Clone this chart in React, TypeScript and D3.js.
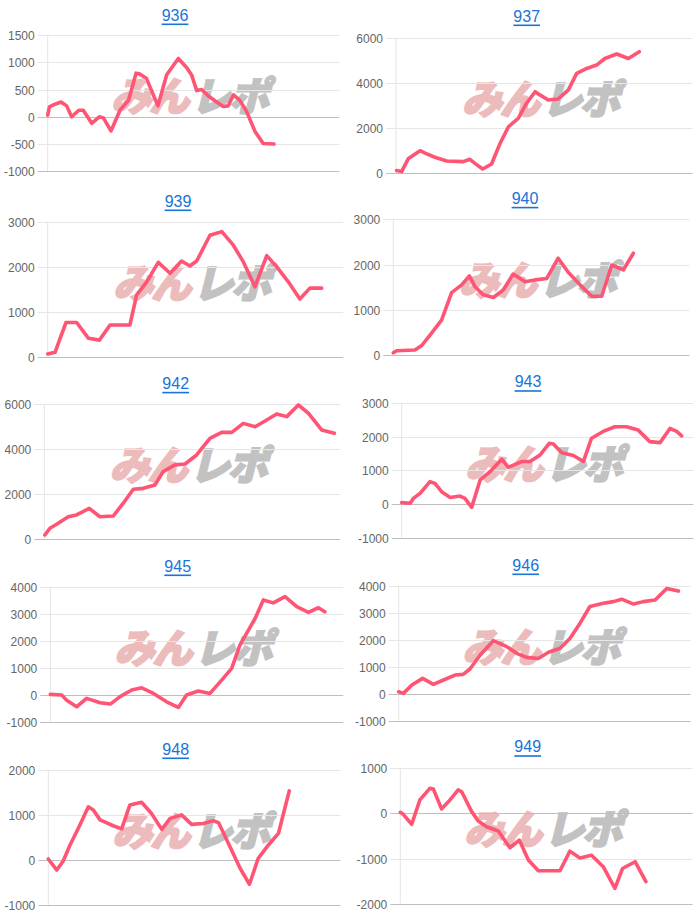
import React from "react";
import * as d3 from "d3";

type Pt = [number, number];

const TITLES = ["936", "937", "939", "940", "942", "943", "945", "946", "948", "949"];
const Y_MIN = [-1000, 0, 0, 0, 0, -1000, -1000, -1000, -1000, -2000];
const Y_MAX = [1500, 6000, 3000, 3000, 6000, 3000, 4000, 4000, 2000, 1000];
const Y_STEP = [500, 2000, 1000, 1000, 2000, 1000, 1000, 1000, 1000, 1000];

// [position along the x axis (0-100), value]
const s936: Pt[] = [[0,30],[0.6,180],[2.5,230],[4.6,270],[6.5,200],[8.2,0],[10.7,120],[12.2,120],[15.1,-120],[17.7,0],[19.1,-20],[21.7,-260],[24.8,120],[27.7,300],[30.3,800],[31.4,790],[33.9,700],[37.8,200],[40.8,770],[44.8,1070],[47.7,900],[49.4,760],[51.1,480],[52.8,500],[55.1,380],[57.7,280],[60.2,190],[61.9,200],[63.7,400],[65.9,300],[68.2,100],[71.1,-270],[73.9,-490],[77.6,-500]];
const s937: Pt[] = [[0.2,120],[1.9,75],[4.2,660],[8.1,1000],[9.8,890],[13.1,710],[17.1,545],[22.7,515],[24.9,620],[26.6,440],[29.2,190],[32.2,410],[35.1,1330],[37.9,2060],[41.2,2430],[44.0,3100],[46.9,3610],[48.5,3470],[51.3,3240],[54.7,3290],[58.1,3690],[60.9,4420],[64.3,4640],[67.6,4790],[70.4,5080],[74.4,5280],[78.3,5080],[82.0,5380]];
const s939: Pt[] = [[0,75],[2.5,110],[4.2,420],[6.2,770],[9.8,770],[13.8,420],[17.5,380],[21.1,715],[27.8,715],[30.1,1380],[33.5,1670],[37.4,2100],[41.4,1860],[45.3,2130],[48.1,2020],[50.4,2130],[54.9,2700],[58.9,2780],[62.8,2480],[66.2,2110],[70.1,1560],[74.1,2250],[77.5,2000],[81.4,1670],[85.3,1290],[88.7,1530],[92.7,1530]];
const s940: Pt[] = [[0,50],[1.1,95],[7.3,110],[9.6,210],[12.4,440],[16.3,770],[19.7,1380],[23.1,1550],[25.7,1750],[27.6,1510],[30.4,1330],[33.8,1270],[37.2,1440],[40.5,1790],[44.5,1620],[47.8,1660],[51.8,1690],[55.7,2140],[59.1,1830],[63.1,1550],[67.0,1300],[70.4,1300],[73.8,1990],[77.7,1880],[81.1,2250]];
const s942: Pt[] = [[0.2,190],[1.9,490],[4.7,710],[8.1,1000],[10.9,1080],[15.2,1370],[18.8,1000],[23.3,1030],[26.7,1600],[30.1,2220],[33.5,2260],[37.4,2410],[40.2,3000],[44.2,3300],[47.6,3340],[51.5,3740],[56.0,4480],[60.0,4740],[63.4,4740],[67.3,5140],[71.3,4990],[75.2,5290],[78.6,5560],[82.0,5440],[85.9,5960],[89.3,5590],[93.8,4850],[98.1,4700]];
const s943: Pt[] = [[0,45],[2.9,25],[4.0,170],[6.3,320],[9.7,665],[11.4,615],[13.7,370],[16.6,200],[20.0,240],[21.7,170],[24.0,-95],[26.9,715],[30.3,960],[34.3,1330],[36.6,1090],[41.1,1260],[44.0,1260],[47.4,1450],[50.6,1800],[52.0,1780],[54.9,1520],[58.9,1440],[62.3,1260],[65.1,1950],[69.1,2150],[73.1,2290],[77.1,2290],[81.1,2190],[85.1,1850],[88.6,1820],[92.0,2240],[94.3,2150],[96.0,2020]];
const s945: Pt[] = [[0,15],[3.9,-10],[5.6,-200],[9.0,-445],[12.4,-135],[17.0,-295],[20.5,-345],[23.8,-70],[27.8,175],[31.2,260],[35.2,50],[39.7,-260],[43.7,-470],[46.5,-10],[50.5,140],[54.5,50],[58.5,545],[61.9,980],[64.7,1840],[67.0,2280],[69.9,2830],[72.7,3520],[76.1,3410],[80.1,3640],[84.1,3270],[88.1,3060],[91.5,3230],[93.7,3080]];
const s946: Pt[] = [[0,75],[1.6,15],[4.5,325],[8.2,570],[11.9,350],[15.3,510],[19.3,695],[22.1,720],[24.4,920],[27.9,1440],[32.4,1970],[37.0,1750],[40.4,1500],[43.8,1350],[47.8,1310],[51.3,1540],[55.3,1690],[58.7,2060],[62.1,2620],[65.5,3240],[70.1,3360],[73.5,3420],[76.4,3510],[80.4,3330],[83.8,3420],[87.8,3480],[91.8,3910],[95.8,3810]];
const s948: Pt[] = [[0,25],[2.9,-220],[5.1,-20],[7.4,330],[10.8,775],[13.7,1180],[15.4,1110],[17.7,890],[22.2,760],[25.1,690],[27.9,1220],[31.9,1280],[35.3,1030],[38.8,680],[41.6,920],[45.6,1000],[49.0,790],[53.0,810],[56.4,870],[58.2,830],[62.1,300],[65.6,-180],[68.8,-535],[71.8,40],[75.3,335],[78.7,590],[82.4,1530]];
const s949: Pt[] = [[0,25],[1.0,-20],[3.9,-240],[6.7,300],[10.1,555],[11.3,540],[14.1,100],[17.0,300],[19.8,520],[21.0,480],[24.4,40],[26.7,-170],[29.5,-295],[33.5,-390],[37.5,-760],[40.7,-590],[43.8,-1030],[47.2,-1270],[54.6,-1270],[58.0,-835],[61.4,-985],[65.4,-925],[69.4,-1180],[73.4,-1660],[76.0,-1220],[80.3,-1070],[84.0,-1510]];

const SERIES = [s936, s937, s939, s940, s942, s943, s945, s946, s948, s949];

// layout: plot boxes [left, top, right, bottom] and title centre
const BOXES = [
  [47.7, 35, 339.3, 171.3],
  [396, 37.7, 692.7, 173.3],
  [47.7, 221.7, 343.3, 357.3],
  [393.3, 219.3, 689.3, 355],
  [44.3, 404, 340, 539.3],
  [401.7, 402.7, 693.3, 538],
  [50.3, 587, 343.3, 721.7],
  [398.7, 586, 690.7, 720.7],
  [48.3, 769.7, 340.7, 905.3],
  [400.3, 768.3, 692.7, 903.7],
];
const TITLE_POS = [
  [175, 15], [526.7, 16], [178, 201], [525, 198.3], [175.7, 383.3],
  [528, 381.7], [177.7, 566], [525.7, 565], [175.7, 749], [527.7, 746.7],
];

const LINE_COLOR = "#ff5574";
const FONT = "'Liberation Sans', Arial, Helvetica, sans-serif";

function Panel({ i }: { i: number }) {
  const [l, t, r, b] = BOXES[i];
  const x = d3.scaleLinear().domain([0, 100]).range([l, r]);
  const y = d3.scaleLinear().domain([Y_MIN[i], Y_MAX[i]]).range([b, t]);
  const ticks = d3.range(Y_MIN[i], Y_MAX[i] + 1, Y_STEP[i]);
  const line = d3
    .line<Pt>()
    .x((d) => x(d[0]))
    .y((d) => y(d[1]));
  const cx = (l + r) / 2;
  const cy = (t + b) / 2 - 9;
  const [tx, ty] = TITLE_POS[i];
  return (
    <g>
      {/* watermark */}
      <g transform={`translate(${cx},${cy}) skewX(-14)`}>
        <text
          x={-2}
          y={0}
          textAnchor="end"
          dominantBaseline="central"
          fontFamily="'Noto Sans CJK JP', sans-serif"
          fontWeight={900}
          fontSize={40}
          fill="#ecbcbc"
          stroke="#ecbcbc"
          strokeWidth={2}
          letterSpacing={-2}
        >
          みん
        </text>
        <text
          x={2}
          y={0}
          textAnchor="start"
          dominantBaseline="central"
          fontFamily="'Noto Sans CJK JP', sans-serif"
          fontWeight={900}
          fontSize={40}
          fill="#c2c2c2"
          stroke="#c2c2c2"
          strokeWidth={2}
          letterSpacing={-2}
        >
          レポ
        </text>
      </g>
      {/* y axis line */}
      <line x1={l} x2={l} y1={t} y2={b} stroke="#e4e4e4" strokeWidth={1} />
      {ticks.map((v) => {
        const yy = Math.round(y(v)) + 0.5;
        const dark = v === 0 || v === Y_MIN[i];
        return (
          <g key={v}>
            <line x1={l - 10} x2={r} y1={yy} y2={yy} stroke={dark ? "#bfbfbf" : "#e6e6e6"} strokeWidth={1} />
            <text
              x={l - 13}
              y={yy}
              textAnchor="end"
              dominantBaseline="central"
              fontFamily={FONT}
              fontSize={12}
              fill="#666"
            >
              {v}
            </text>
          </g>
        );
      })}
      <path
        d={line(SERIES[i]) || ""}
        fill="none"
        stroke={LINE_COLOR}
        strokeWidth={3.6}
        strokeLinejoin="round"
        strokeLinecap="round"
      />
      <text
        x={tx}
        y={ty}
        textAnchor="middle"
        dominantBaseline="central"
        fontFamily={FONT}
        fontSize={16}
        fill="#1a73d9"
        textDecoration="underline"
      >
        {TITLES[i]}
      </text>
    </g>
  );
}

export default function App() {
  return (
    <svg
      width={700}
      height={915}
      style={{ position: "absolute", left: 0, top: 0, background: "#fff" }}
    >
      {TITLES.map((_, i) => (
        <Panel key={i} i={i} />
      ))}
    </svg>
  );
}
